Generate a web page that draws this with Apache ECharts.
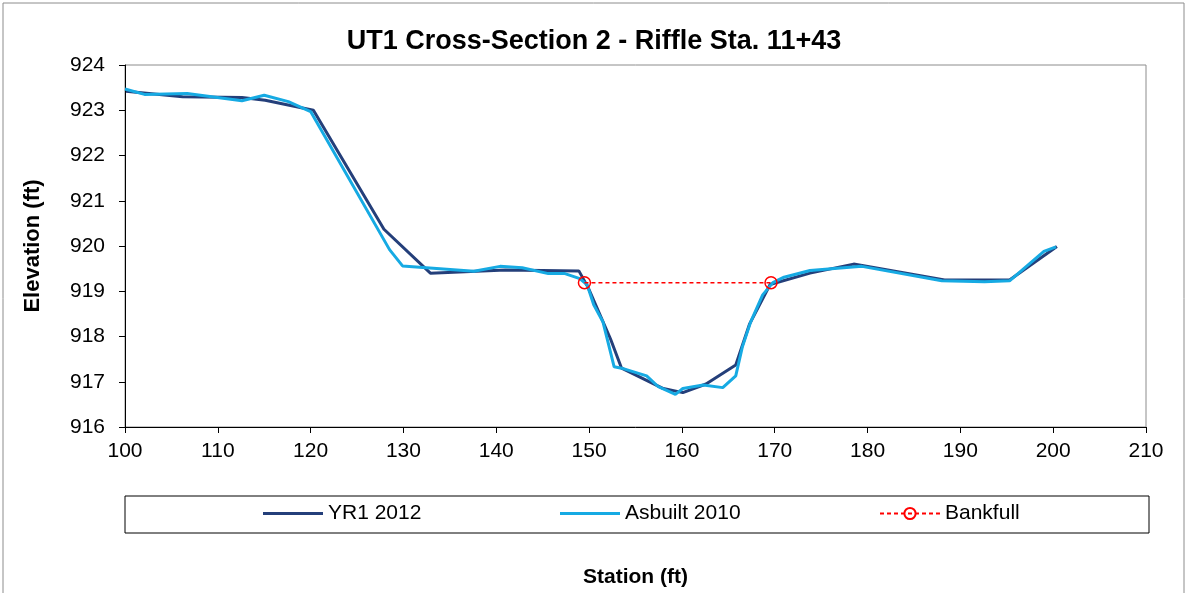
<!DOCTYPE html>
<html>
<head>
<meta charset="utf-8">
<title>UT1 Cross-Section 2</title>
<script src="https://cdn.jsdelivr.net/npm/echarts@6/dist/echarts.min.js"></script>
<style>
    html, body { margin: 0; padding: 0; background: #fff; }
    #main { width: 1188px; height: 593px; }
</style>
</head>
<body>
<div id="main"></div>
<script>
// station (ft), elevation (ft)
var yr1Station = [100.1, 106.2, 112.6, 115.1, 120.3, 127.9, 132.9, 141.0, 148.9, 149.9, 152.3, 153.5,
    158.0, 160.1, 162.6, 165.8, 167.3, 169.5, 173.8, 178.5, 188.3, 195.3, 200.4];
var yr1Elev = [923.42, 923.30, 923.28, 923.22, 923.00, 920.37, 919.40, 919.47, 919.45, 919.08, 917.95, 917.30,
    916.85, 916.76, 916.95, 917.37, 918.28, 919.15, 919.40, 919.60, 919.25, 919.25, 919.99];

var asbStation = [100.0, 102.1, 106.7, 112.6, 115.0, 117.6, 120.0, 128.5, 129.9, 137.6, 140.4, 142.8, 145.6,
    147.4, 149.0, 149.8, 150.5, 151.5, 152.7, 153.5, 156.2, 157.4, 159.3, 160.1, 162.3, 164.4, 165.8, 166.5,
    167.4, 168.7, 169.8, 171.0, 173.8, 179.4, 188.0, 192.6, 195.3, 199.0, 200.3];
var asbElev = [923.47, 923.35, 923.37, 923.21, 923.33, 923.19, 922.97, 919.92, 919.56, 919.44, 919.55, 919.52, 919.39,
    919.39, 919.28, 919.14, 918.70, 918.32, 917.33, 917.30, 917.13, 916.90, 916.72, 916.85, 916.93, 916.87, 917.13, 917.76,
    918.32, 918.92, 919.19, 919.31, 919.46, 919.55, 919.23, 919.21, 919.23, 919.88, 919.98];

var bkfStation = [149.5, 169.6];
var bkfElev = [919.19, 919.19];

function pairs(xs, ys) {
    return xs.map(function (x, i) { return [x, ys[i]]; });
}

var font = 'Arial, "Liberation Sans", sans-serif';
var legendText = { fontFamily: font, fontSize: 21, color: '#000' };

var option = {
    animation: false,
    backgroundColor: '#fff',
    title: {
        text: 'UT1 Cross-Section 2 - Riffle Sta. 11+43',
        left: 'center',
        top: 23,
        textStyle: { fontFamily: font, fontSize: 27, fontWeight: 'bold', color: '#000' }
    },
    grid: {
        left: 125, right: 42, top: 65, bottom: 166,
        show: true, borderColor: '#8c8c8c', borderWidth: 1
    },
    xAxis: {
        type: 'value',
        min: 100, max: 210, interval: 10,
        name: 'Station (ft)',
        nameLocation: 'middle',
        nameGap: 140,
        nameTextStyle: { fontFamily: font, fontSize: 21, fontWeight: 'bold', color: '#000' },
        axisLine: { lineStyle: { color: '#000', width: 1 } },
        axisTick: { show: true, length: 6, lineStyle: { color: '#000' } },
        axisLabel: { fontFamily: font, fontSize: 21, color: '#000', margin: 14 },
        splitLine: { show: false }
    },
    yAxis: {
        type: 'value',
        min: 916, max: 924, interval: 1,
        name: 'Elevation (ft)',
        nameLocation: 'middle',
        nameGap: 81,
        nameRotate: 90,
        nameTextStyle: { fontFamily: font, fontSize: 22, fontWeight: 'bold', color: '#000' },
        axisLine: { show: true, lineStyle: { color: '#000', width: 1 } },
        axisTick: { show: true, length: 6, lineStyle: { color: '#000' } },
        axisLabel: { fontFamily: font, fontSize: 21, color: '#000', margin: 20 },
        splitLine: { show: false }
    },
    legend: [
        {
            data: [{ name: 'YR1 2012', icon: 'rect' }],
            left: 263, top: 503, padding: 0,
            itemWidth: 60, itemHeight: 3,
            textStyle: legendText
        },
        {
            data: [{ name: 'Asbuilt 2010', icon: 'rect' }],
            left: 560, top: 503, padding: 0,
            itemWidth: 60, itemHeight: 3,
            textStyle: legendText
        },
        {
            data: ['Bankfull'],
            left: 879, top: 503, padding: 0,
            itemWidth: 60, itemHeight: 14,
            textStyle: legendText
        }
    ],
    graphic: [
        {   // outer frame
            type: 'rect', silent: true, z: -1,
            shape: { x: 3, y: 3, width: 1181, height: 596 },
            style: { fill: 'none', stroke: '#8c8c8c', lineWidth: 1 }
        },
        {   // legend box
            type: 'rect', silent: true,
            shape: { x: 125, y: 496, width: 1024, height: 37 },
            style: { fill: 'none', stroke: '#000', lineWidth: 1 }
        }
    ],
    series: [
        {
            name: 'YR1 2012',
            type: 'line',
            data: pairs(yr1Station, yr1Elev),
            symbol: 'none',
            lineStyle: { color: '#243f7a', width: 3 },
            itemStyle: { color: '#243f7a' },
            z: 2
        },
        {
            name: 'Asbuilt 2010',
            type: 'line',
            data: pairs(asbStation, asbElev),
            symbol: 'none',
            lineStyle: { color: '#16aae3', width: 3 },
            itemStyle: { color: '#16aae3' },
            z: 3
        },
        {
            name: 'Bankfull',
            type: 'line',
            data: pairs(bkfStation, bkfElev),
            symbol: 'circle',
            symbolSize: 12,
            lineStyle: { color: '#ff0000', width: 1.5, type: [4, 3] },
            itemStyle: { color: 'rgba(255,255,255,0)', borderColor: '#ff0000', borderWidth: 1.5 },
            z: 4
        }
    ]
};

//初始化echarts实例
var myChart = echarts.init(document.getElementById('main'));
myChart.setOption(option);
</script>
</body>
</html>
